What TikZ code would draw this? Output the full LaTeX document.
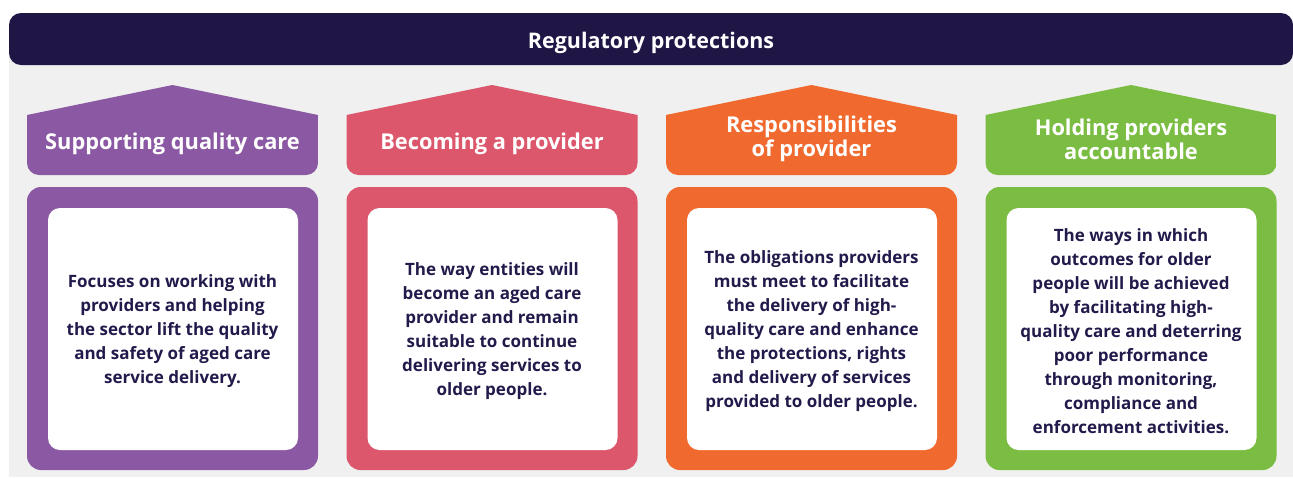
\documentclass[tikz,border=0pt]{standalone}
\usepackage{fontspec}
\setmainfont{Open Sans}
\usetikzlibrary{positioning,calc}
\definecolor{navy}{HTML}{1F1646}
\definecolor{bggray}{HTML}{F0F0F0}
\definecolor{purp}{HTML}{8B59A3}
\definecolor{rose}{HTML}{DC576B}
\definecolor{orng}{HTML}{F06A2F}
\definecolor{grn}{HTML}{7ABD42}
\definecolor{ink}{HTML}{231A4B}

\begin{document}
\begin{tikzpicture}[x=1pt, y=-1pt,
  headtext/.style={text=white,font=\bfseries\fontsize{21.8}{24}\selectfont,align=center,inner sep=0pt},
  bodytext/.style={text=ink,font=\bfseries\fontsize{17}{24}\selectfont,align=center,inner sep=0pt}]
  \useasboundingbox (0,0) rectangle (1293,477);
  \fill[bggray] (9,40) rectangle (1293,477);
  \fill[navy,rounded corners=12pt] (9,13) rectangle (1293,65);
  \node [headtext,font=\bfseries\fontsize{21.5}{24}\selectfont,anchor=base] (T) at (651,48) {Regulatory protections};

  % houses and boxes
  \foreach \col/\x in {purp/27,rose/346.5,orng/666,grn/985.5} {
    \begin{scope}
      \clip (\x,115) -- (\x+145.5,85) -- (\x+291,115) -- (\x+291,180) -- (\x,180) -- cycle;
      \fill[\col,rounded corners=12pt] (\x,80) rectangle (\x+291,175);
    \end{scope}
    \fill[\col,rounded corners=14pt] (\x,187) rectangle (\x+291,470);
    \fill[white,rounded corners=12pt] (\x+21,208) rectangle (\x+271,450);
  }

  \node [headtext,anchor=base] (H1) at (172.5,149) {Supporting quality care};
  \node [headtext,anchor=base] (H2) at (492,149) {Becoming a provider};
  \node [headtext] (H3) at (811.5,139) {Responsibilities\\of provider};
  \node [headtext] (H4) at (1131,139) {Holding providers\\accountable};

  \node [bodytext] (B1) at (172.5,331) {Focuses on working with\\providers and helping\\the sector lift the quality\\and safety of aged care\\service delivery.};
  \node [bodytext] (B2) at (492,331) {The way entities will\\become an aged care\\provider and remain\\suitable to continue\\delivering services to\\older people.};
  \node [bodytext] (B3) at (811.5,331) {The obligations providers\\must meet to facilitate\\the delivery of high-\\quality care and enhance\\the protections, rights\\and delivery of services\\provided to older people.};
  \node [bodytext] (B4) at (1131,331) {The ways in which\\outcomes for older\\people will be achieved\\by facilitating high-\\quality care and deterring\\poor performance\\through monitoring,\\compliance and\\enforcement activities.};
\end{tikzpicture}
\end{document}
